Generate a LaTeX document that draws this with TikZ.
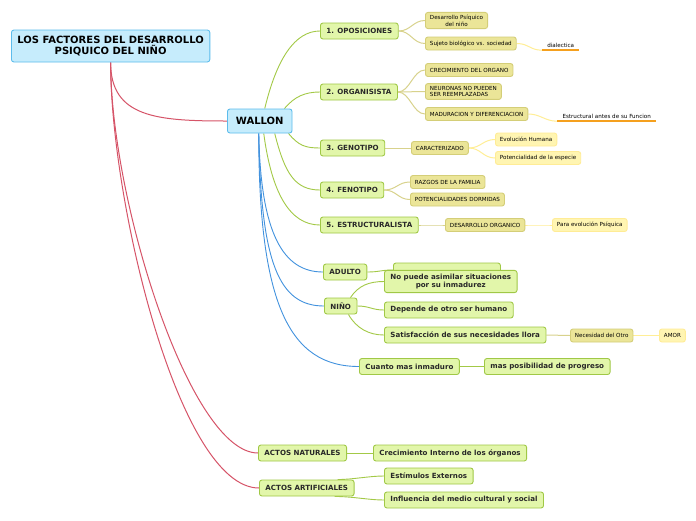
\documentclass[tikz,border=0pt]{standalone}
\usepackage{fontspec}
\setmainfont{DejaVu Sans}
\usetikzlibrary{backgrounds}

\definecolor{celeste}{RGB}{198,236,252}
\definecolor{celesteborde}{RGB}{92,188,236}
\definecolor{verde}{RGB}{226,246,170}
\definecolor{verdeborde}{RGB}{160,200,70}
\definecolor{oliva}{RGB}{235,229,152}
\definecolor{olivaborde}{RGB}{212,206,120}
\definecolor{crema}{RGB}{255,245,178}
\definecolor{cremaborde}{RGB}{255,236,150}
\definecolor{rojo}{RGB}{214,84,104}
\definecolor{azul}{RGB}{66,146,222}
\definecolor{lineaverde}{RGB}{163,201,70}
\definecolor{lineaoliva}{RGB}{216,210,140}
\definecolor{lineacrema}{RGB}{255,238,150}
\definecolor{naranja}{RGB}{245,160,30}
\definecolor{texto}{RGB}{40,40,40}

\tikzset{
  caja/.style={rounded corners=2.5pt, line width=0.9pt, align=center, text=texto, anchor=west},
  raiz/.style={caja, draw=celesteborde, fill=celeste, text=black, font=\bfseries\fontsize{10}{11.5}\selectfont, inner xsep=6pt, minimum height=24pt},
  rama/.style={caja, draw=verdeborde, fill=verde, font=\bfseries\fontsize{7.1}{8.6}\selectfont, inner xsep=6pt, minimum height=16pt},
  hoja/.style={caja, draw=olivaborde, fill=oliva, text=black, font=\fontsize{5.6}{6.6}\selectfont, inner xsep=4.5pt, inner ysep=2.5pt, minimum height=13pt},
  nota/.style={caja, draw=cremaborde, fill=crema, text=black, font=\fontsize{5.6}{6.6}\selectfont, inner xsep=4.5pt, minimum height=13pt},
  suelto/.style={text=black, font=\fontsize{5.6}{6.6}\selectfont, anchor=west, minimum height=10pt, inner sep=0pt},
  lrojo/.style={draw=rojo, line width=1pt},
  lazul/.style={draw=azul, line width=0.9pt},
  lverde/.style={draw=lineaverde, line width=0.9pt},
  loliva/.style={draw=lineaoliva, line width=1pt},
  lcrema/.style={draw=lineacrema, line width=1pt},
  subrayado/.style={draw=naranja, line width=1.6pt},
}

\begin{document}
\begin{tikzpicture}[x=1pt, y=-1pt]
  \useasboundingbox (0,0) rectangle (696,520);

  % raiz
  \node[raiz, minimum height=32pt] (titulo) at (11,46) {LOS FACTORES DEL DESARROLLO\\PSIQUICO DEL NIÑO};
  \node[raiz, inner xsep=8.5pt] (wallon) at (227,121) {WALLON};

  % ramas de wallon
  \node[rama] (op1) at (320,31) {1. OPOSICIONES};
  \node[rama] (op2) at (320,92) {2. ORGANISISTA};
  \node[rama] (op3) at (320,148) {3. GENOTIPO};
  \node[rama] (op4) at (320,190) {4. FENOTIPO};
  \node[rama] (op5) at (320,225) {5. ESTRUCTURALISTA};

  \node[hoja] (des) at (425,20.5) {Desarrollo Psíquico\\del niño};
  \node[hoja] (suj) at (425,43.5) {Sujeto biológico vs. sociedad};
  \node[suelto, minimum width=37pt] (dial) at (542,45) {dialectica};
  \node[hoja] (crec) at (425,70) {CRECIMIENTO DEL ORGANO};
  \node[hoja, align=left] (neur) at (425,91.5) {NEURONAS NO PUEDEN\\SER REEMPLAZADAS};
  \node[hoja] (mad) at (425,114) {MADURACION Y DIFERENCIACION};
  \node[suelto, minimum width=99pt] (estr) at (557,116) {Estructural antes de su Funcion};
  \node[hoja] (car) at (411,148) {CARACTERIZADO};
  \node[nota] (evo) at (495,139.5) {Evolución Humana};
  \node[nota] (pot) at (495,158) {Potencialidad de la especie};
  \node[hoja] (raz) at (410,182) {RAZGOS DE LA FAMILIA};
  \node[hoja] (pdor) at (410,199.5) {POTENCIALIDADES DORMIDAS};
  \node[hoja] (dorg) at (445,225) {DESARROLLO ORGANICO};
  \node[nota] (para) at (552,225) {Para evolución Psíquica};

  % adulto y niño
  \node[rama] (adulto) at (323,272) {ADULTO};
  \node[rama, minimum width=107pt, minimum height=14pt] (oculto) at (393,270) {};
  \node[rama] (nino) at (324,306) {NIÑO};
  \node[rama] (np) at (384,281.5) {No puede asimilar situaciones\\por su inmadurez};
  \node[rama] (dep) at (384,310) {Depende de otro ser humano};
  \node[rama] (sat) at (384,335) {Satisfacción de sus necesidades llora};
  \node[hoja, inner ysep=1.5pt] (nec) at (570,335.5) {Necesidad del Otro};
  \node[nota] (amor) at (659,335.5) {AMOR};
  \node[rama] (cuanto) at (359,366.5) {Cuanto mas inmaduro};
  \node[rama] (masp) at (484,366.5) {mas posibilidad de progreso};

  % actos
  \node[rama] (nat) at (258,453) {ACTOS NATURALES};
  \node[rama] (art) at (259,488) {ACTOS ARTIFICIALES};
  \node[rama] (crecint) at (373,453) {Crecimiento Interno de los órganos};
  \node[rama] (estim) at (384,476) {Estímulos Externos};
  \node[rama] (infl) at (384,500) {Influencia del medio cultural y social};

  \begin{scope}[on background layer]
    \fill[white] (0,0) rectangle (696,520);

    \draw[lrojo] (titulo.south) .. controls +(0,55) and +(-70,0) .. (wallon.west);
    \draw[lrojo] (titulo.south) .. controls +(0,138) and +(-68,0) .. (nat.west);
    \draw[lrojo] (titulo.south) .. controls +(0,140) and +(-80,0) .. (art.west);

    \draw[lverde] ([xshift=5pt]wallon.north) .. controls +(12,-50) and +(-25,0) .. (op1.west);
    \draw[lverde] ([xshift=-8pt]wallon.north east) .. controls +(10,-12) and +(-15,0) .. (op2.west);
    \draw[lverde] ([xshift=-4pt]wallon.south east) .. controls +(10,12) and +(-15,0) .. (op3.west);
    \draw[lverde] ([xshift=15pt]wallon.south) .. controls +(10,40) and +(-25,0) .. (op4.west);
    \draw[lverde] ([xshift=4pt]wallon.south) .. controls +(8,60) and +(-30,0) .. (op5.west);
    \draw[lazul] ([xshift=-1pt]wallon.south) .. controls +(2,100) and +(-40,0) .. (adulto.west);
    \draw[lazul] ([xshift=-1pt]wallon.south) .. controls +(2,130) and +(-45,0) .. (nino.west);
    \draw[lazul] ([xshift=-1pt]wallon.south) .. controls +(0,170) and +(-70,0) .. (cuanto.west);

    \foreach \a/\b in {op1/des, op1/suj, op2/crec, op2/neur, op2/mad, op3/car, op4/raz, op4/pdor, op5/dorg, sat/nec}
      \draw[loliva] (\a.east) .. controls +(12,0) and +(-12,0) .. (\b.west);
    \foreach \a/\b in {car/evo, car/pot, dorg/para, nec/amor}
      \draw[lcrema] (\a.east) .. controls +(12,0) and +(-12,0) .. (\b.west);
    \foreach \a/\b in {adulto/oculto, cuanto/masp, nat/crecint}
      \draw[lverde] (\a.east) .. controls +(12,0) and +(-12,0) .. (\b.west);

    \draw[lcrema] (suj.east) .. controls +(12,0) and +(-12,0) .. (dial.south west);
    \draw[lcrema] (mad.east) .. controls +(12,0) and +(-12,0) .. (estr.south west);
    \draw[subrayado] (dial.south west) -- (dial.south east);
    \draw[subrayado] (estr.south west) -- (estr.south east);

    \draw[lverde] ([xshift=-7pt]nino.north east) .. controls +(8,-12) and +(-15,0) .. (np.west);
    \draw[lverde] (nino.east) .. controls +(12,0) and +(-12,0) .. (dep.west);
    \draw[lverde] ([xshift=-9pt]nino.south east) .. controls +(8,14) and +(-15,0) .. (sat.west);
    \draw[lverde] ([xshift=-17pt]art.north east) .. controls +(15,0) and +(-15,0) .. (estim.west);
    \draw[lverde] ([xshift=-20pt]art.south east) .. controls +(18,0) and +(-15,0) .. (infl.west);
  \end{scope}
\end{tikzpicture}
\end{document}
